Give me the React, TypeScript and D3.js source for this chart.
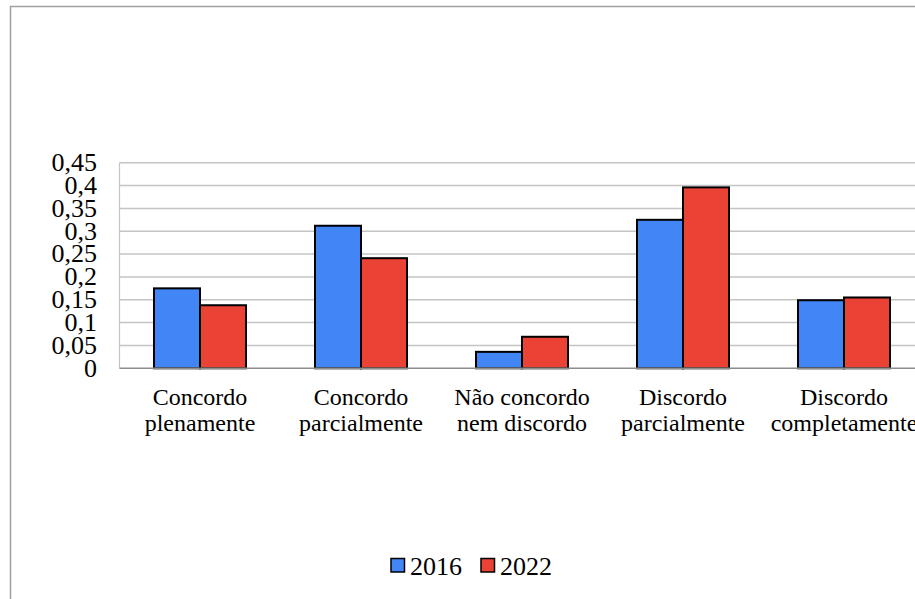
import React from "react";
import * as d3 from "d3";

// Survey answers, share of respondents per year
const categories = [
  "Concordo plenamente",
  "Concordo parcialmente",
  "Não concordo nem discordo",
  "Discordo parcialmente",
  "Discordo completamente",
];
const categoryLines = [
  ["Concordo", "plenamente"],
  ["Concordo", "parcialmente"],
  ["Não concordo", "nem discordo"],
  ["Discordo", "parcialmente"],
  ["Discordo", "completamente"],
];
const series = ["2016", "2022"];
const values2016 = [0.175, 0.312, 0.036, 0.325, 0.149];
const values2022 = [0.138, 0.241, 0.069, 0.396, 0.155];
const yTicks = [0, 0.05, 0.1, 0.15, 0.2, 0.25, 0.3, 0.35, 0.4, 0.45];
const colors = ["#4285F4", "#EA4335"];

const W = 915;
const H = 599;
const serif = { fontFamily: "Liberation Serif" };

export default function App() {
  const x0 = d3.scaleBand<string>().domain(categories).range([119.5, 924.5]).padding(0);
  const bw = x0.bandwidth();
  const x1 = d3
    .scaleBand<string>()
    .domain(series)
    .range([bw * 0.2143, bw * 0.7857])
    .padding(0);
  const y = d3.scaleLinear().domain([0, 0.45]).range([368.3, 162.7]);
  const fmt = (v: number) => String(+v.toFixed(2)).replace(".", ",");
  const data = [values2016, values2022];

  return (
    <svg width={W} height={H} style={{ position: "absolute", left: 0, top: 0, background: "#fff" }}>
      {/* chart frame */}
      <rect x={10.5} y={6.5} width={W + 20} height={H + 20} fill="none" stroke="#a0a0a0" strokeWidth={1.5} />

      {/* gridlines */}
      {yTicks.slice(1).map((t) => (
        <line key={t} x1={119.5} x2={W} y1={y(t)} y2={y(t)} stroke="#c4c4c4" strokeWidth={1.5} />
      ))}
      {/* left edge of plot area */}
      <line x1={119.5} x2={119.5} y1={y(0.45)} y2={y(0)} stroke="#c4c4c4" strokeWidth={1.2} />

      {/* y tick labels */}
      {yTicks.map((t) => (
        <text key={t} x={97} y={y(t) + 8.4} textAnchor="end" fontSize={26} fill="#000" style={serif}>
          {fmt(t)}
        </text>
      ))}

      {/* bars */}
      {categories.map((c, i) => (
        <g key={c} transform={`translate(${x0(c)},0)`}>
          {series.map((s, j) => (
            <rect
              key={s}
              x={x1(s)}
              y={y(data[j][i])}
              width={x1.bandwidth()}
              height={y(0) - y(data[j][i])}
              fill={colors[j]}
              stroke="#000"
              strokeWidth={2}
            />
          ))}
        </g>
      ))}

      {/* baseline */}
      <line x1={119.5} x2={W} y1={y(0)} y2={y(0)} stroke="#8c8c8c" strokeWidth={1.5} />

      {/* category labels */}
      {categories.map((c, i) => (
        <text key={c} textAnchor="middle" fontSize={24} fill="#000" style={serif}>
          {categoryLines[i].map((ln, k) => (
            <tspan key={k} x={(x0(c) as number) + bw / 2} y={405 + k * 25.5}>
              {ln}
            </tspan>
          ))}
        </text>
      ))}

      {/* legend */}
      {series.map((s, j) => {
        const lx = 391 + j * 90;
        return (
          <g key={s}>
            <rect x={lx} y={558.5} width={13.5} height={13.5} fill={colors[j]} stroke="#000" strokeWidth={1.5} />
            <text x={lx + 19} y={574.5} fontSize={26} fill="#000" style={serif}>
              {s}
            </text>
          </g>
        );
      })}
    </svg>
  );
}
